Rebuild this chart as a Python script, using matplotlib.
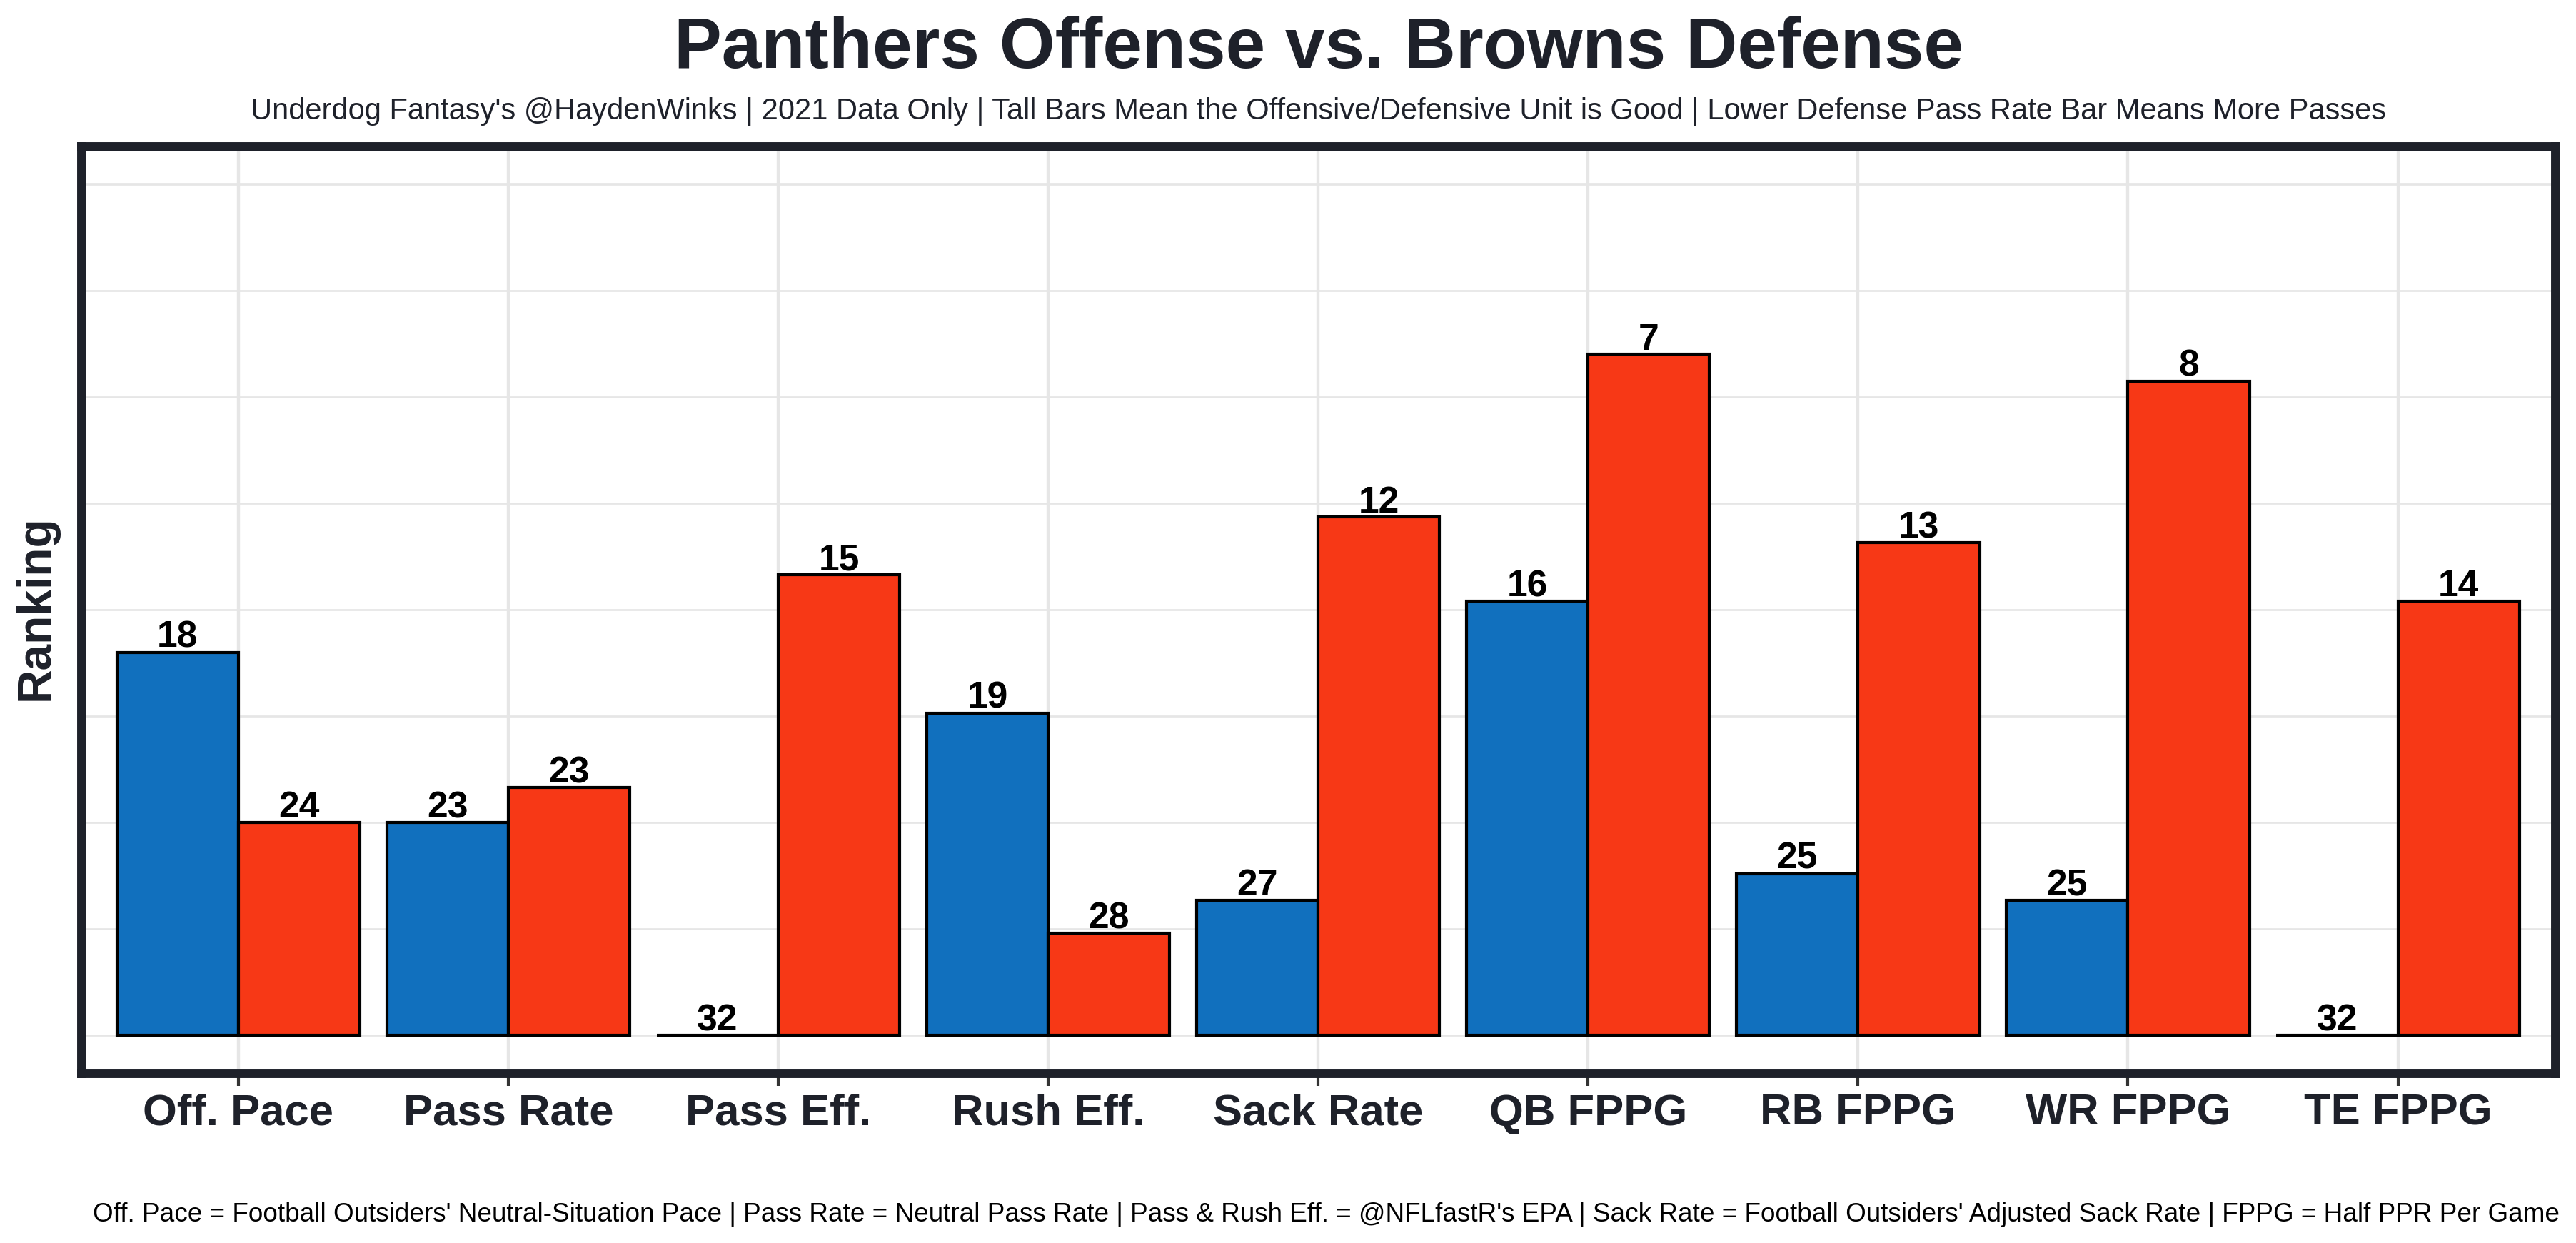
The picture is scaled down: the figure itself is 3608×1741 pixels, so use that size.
import numpy as np
import matplotlib
matplotlib.use("Agg")
import matplotlib.pyplot as plt

# --- Data ---
categories = ["Off. Pace", "Pass Rate", "Pass Eff.", "Rush Eff.", "Sack Rate",
              "QB FPPG", "RB FPPG", "WR FPPG", "TE FPPG"]
off_rank = [18, 23, 32, 19, 27, 16, 25, 25, 32]
def_rank = [24, 23, 15, 28, 12, 7, 13, 8, 14]
# bar heights (the scale has no labels, one grid step = 1)
off_score = [3.60, 2.00, 0.00, 3.03, 1.27, 4.08, 1.52, 1.27, 0.00]
def_score = [2.00, 2.33, 4.33, 0.96, 4.87, 6.40, 4.63, 6.15, 4.08]

title = "Panthers Offense vs. Browns Defense"
subtitle = ("Underdog Fantasy's @HaydenWinks | 2021 Data Only | Tall Bars Mean the "
            "Offensive/Defensive Unit is Good | Lower Defense Pass Rate Bar Means More Passes")
caption = ("Off. Pace = Football Outsiders' Neutral-Situation Pace | Pass Rate = Neutral Pass Rate | "
           "Pass & Rush Eff. = @NFLfastR's EPA | Sack Rate = Football Outsiders' Adjusted Sack Rate | "
           "FPPG = Half PPR Per Game")

off_color = "#1170BE"
def_color = "#F73816"
dark = "#1E212A"

plt.rcParams['font.family'] = ['Liberation Sans', 'DejaVu Sans']

fig = plt.figure(figsize=(3608 / 300, 1741 / 300), dpi=300)
ax = fig.add_axes([0.03146, 0.13699, 0.9605, 0.74498])

x = np.arange(1, len(categories) + 1)
w = 0.45

# --- Bars ---
b1 = ax.bar(x - w / 2, off_score, width=w, color=off_color, edgecolor="black",
            linewidth=1.0, zorder=3)
b2 = ax.bar(x + w / 2, def_score, width=w, color=def_color, edgecolor="black",
            linewidth=1.0, zorder=3)

for bars, ranks in [(b1, off_rank), (b2, def_rank)]:
    for rect, r in zip(bars, ranks):
        ax.annotate(str(r), (rect.get_x() + rect.get_width() / 2, rect.get_height()),
                    xytext=(0, 1.6), textcoords="offset points", ha="center", va="baseline",
                    fontsize=12.4, fontweight="bold", color="black", zorder=4)

# --- Axes / grid ---
ax.set_xlim(0.417, 9.583)
ax.set_ylim(-0.352, 8.352)
ax.set_xticks(x)
ax.set_xticklabels(categories, fontsize=14.8, fontweight="bold", color=dark)
ax.set_yticks(np.arange(0, 9))
ax.set_yticklabels([])
ax.tick_params(axis="y", length=0)
ax.tick_params(axis="x", length=4.4, width=1.0, color="#333333", pad=2.6)

for xv in x:
    ax.axvline(xv, color="#E6E6E6", linewidth=1.05, zorder=1)
for yv in np.arange(0, 9):
    ax.axhline(yv, color="#E6E6E6", linewidth=0.65, zorder=1)

for s in ax.spines.values():
    s.set_color(dark)
    s.set_linewidth(3.1)
    s.set_zorder(5)

# --- Text ---
fig.text(0.5119, 1 - 95 / 1741, title, ha="center", va="baseline",
         fontsize=24, fontweight="bold", color=dark)
fig.text(0.5117, 1 - 167 / 1741, subtitle, ha="center", va="baseline",
         fontsize=10, color=dark)
fig.text(0.0139, 0.511, "Ranking", rotation=90, ha="center", va="center",
         fontsize=15.8, fontweight="bold", color=dark)
fig.text(0.9936, 1 - 1711 / 1741, caption, ha="right", va="baseline",
         fontsize=8.85, color="black")

fig.savefig("out.png", dpi=300, facecolor="white")
